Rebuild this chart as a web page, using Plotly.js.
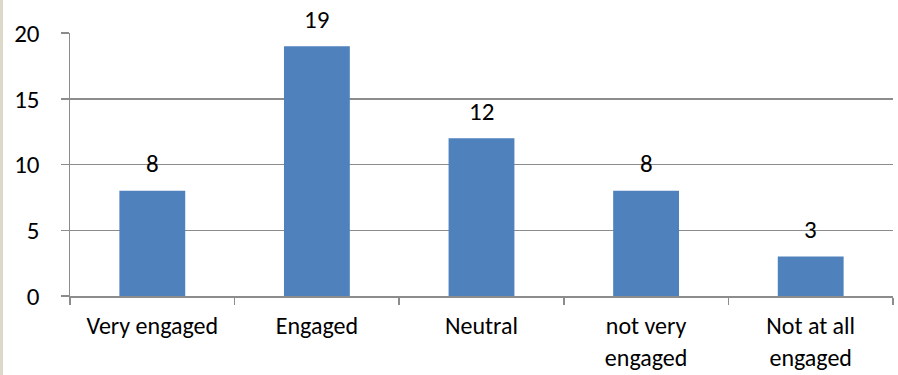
<!DOCTYPE html>
<html>
<head>
<meta charset="utf-8">
<script src="https://cdn.plot.ly/plotly-3.0.1.min.js"></script>
<style>
  html, body { margin: 0; padding: 0; background: #ffffff; }
  #wrap { position: relative; width: 898px; height: 375px; }
  #chart { width: 898px; height: 375px; }
  #edge { position: absolute; left: 0; top: 0; width: 3px; height: 375px; background: #dcd9c8; }
</style>
</head>
<body>
<div id="wrap">
  <div id="chart"></div>
  <div id="edge"></div>
</div>
<script>
// Engagement survey responses
const categories = ["Very engaged", "Engaged", "Neutral", "not very<br>engaged", "Not at all<br>engaged"];
const counts = [8, 19, 12, 8, 3];
const yTicks = [0, 5, 10, 15, 20];

const fontFamily = "Carlito, Calibri, Lato, 'Open Sans', sans-serif";
const gridColor = "#8c8c8c";

const bars = {
  type: "bar",
  x: categories,
  y: counts,
  marker: { color: "#4f81bd", line: { width: 0 } },
  hoverinfo: "x+y"
};

// value labels sitting above each bar
const labels = categories.map((c, i) => ({
  x: c,
  y: counts[i],
  xref: "x",
  yref: "y",
  text: String(counts[i]),
  showarrow: false,
  yanchor: "middle",
  yshift: 27,
  font: { family: fontFamily, size: 25, color: "#000000" }
}));

const layout = {
  width: 898,
  height: 375,
  margin: { l: 70, r: 5, t: 33, b: 79 },
  paper_bgcolor: "#ffffff",
  plot_bgcolor: "#ffffff",
  showlegend: false,
  bargap: 0.6,
  font: { family: fontFamily, size: 24, color: "#000000" },
  xaxis: {
    type: "category",
    showgrid: false,
    showline: true,
    linecolor: gridColor,
    linewidth: 1.5,
    ticks: "outside",
    tickson: "boundaries",
    ticklen: 7,
    tickcolor: gridColor,
    tickwidth: 1.5,
    ticklabelstandoff: 8,
    tickfont: { family: fontFamily, size: 24, color: "#000000" },
    zeroline: false,
    fixedrange: true
  },
  yaxis: {
    range: [0, 20],
    tickvals: yTicks,
    ticktext: yTicks.map(String),
    showgrid: true,
    gridcolor: gridColor,
    gridwidth: 1.5,
    showline: true,
    linecolor: gridColor,
    linewidth: 1.5,
    ticks: "outside",
    ticklen: 8,
    tickcolor: gridColor,
    tickwidth: 1.5,
    ticklabelstandoff: 16,
    tickfont: { family: fontFamily, size: 25, color: "#000000" },
    zeroline: false,
    fixedrange: true
  },
  annotations: labels
};

Plotly.newPlot("chart", [bars], layout, { displayModeBar: false, staticPlot: true });
</script>
</body>
</html>
